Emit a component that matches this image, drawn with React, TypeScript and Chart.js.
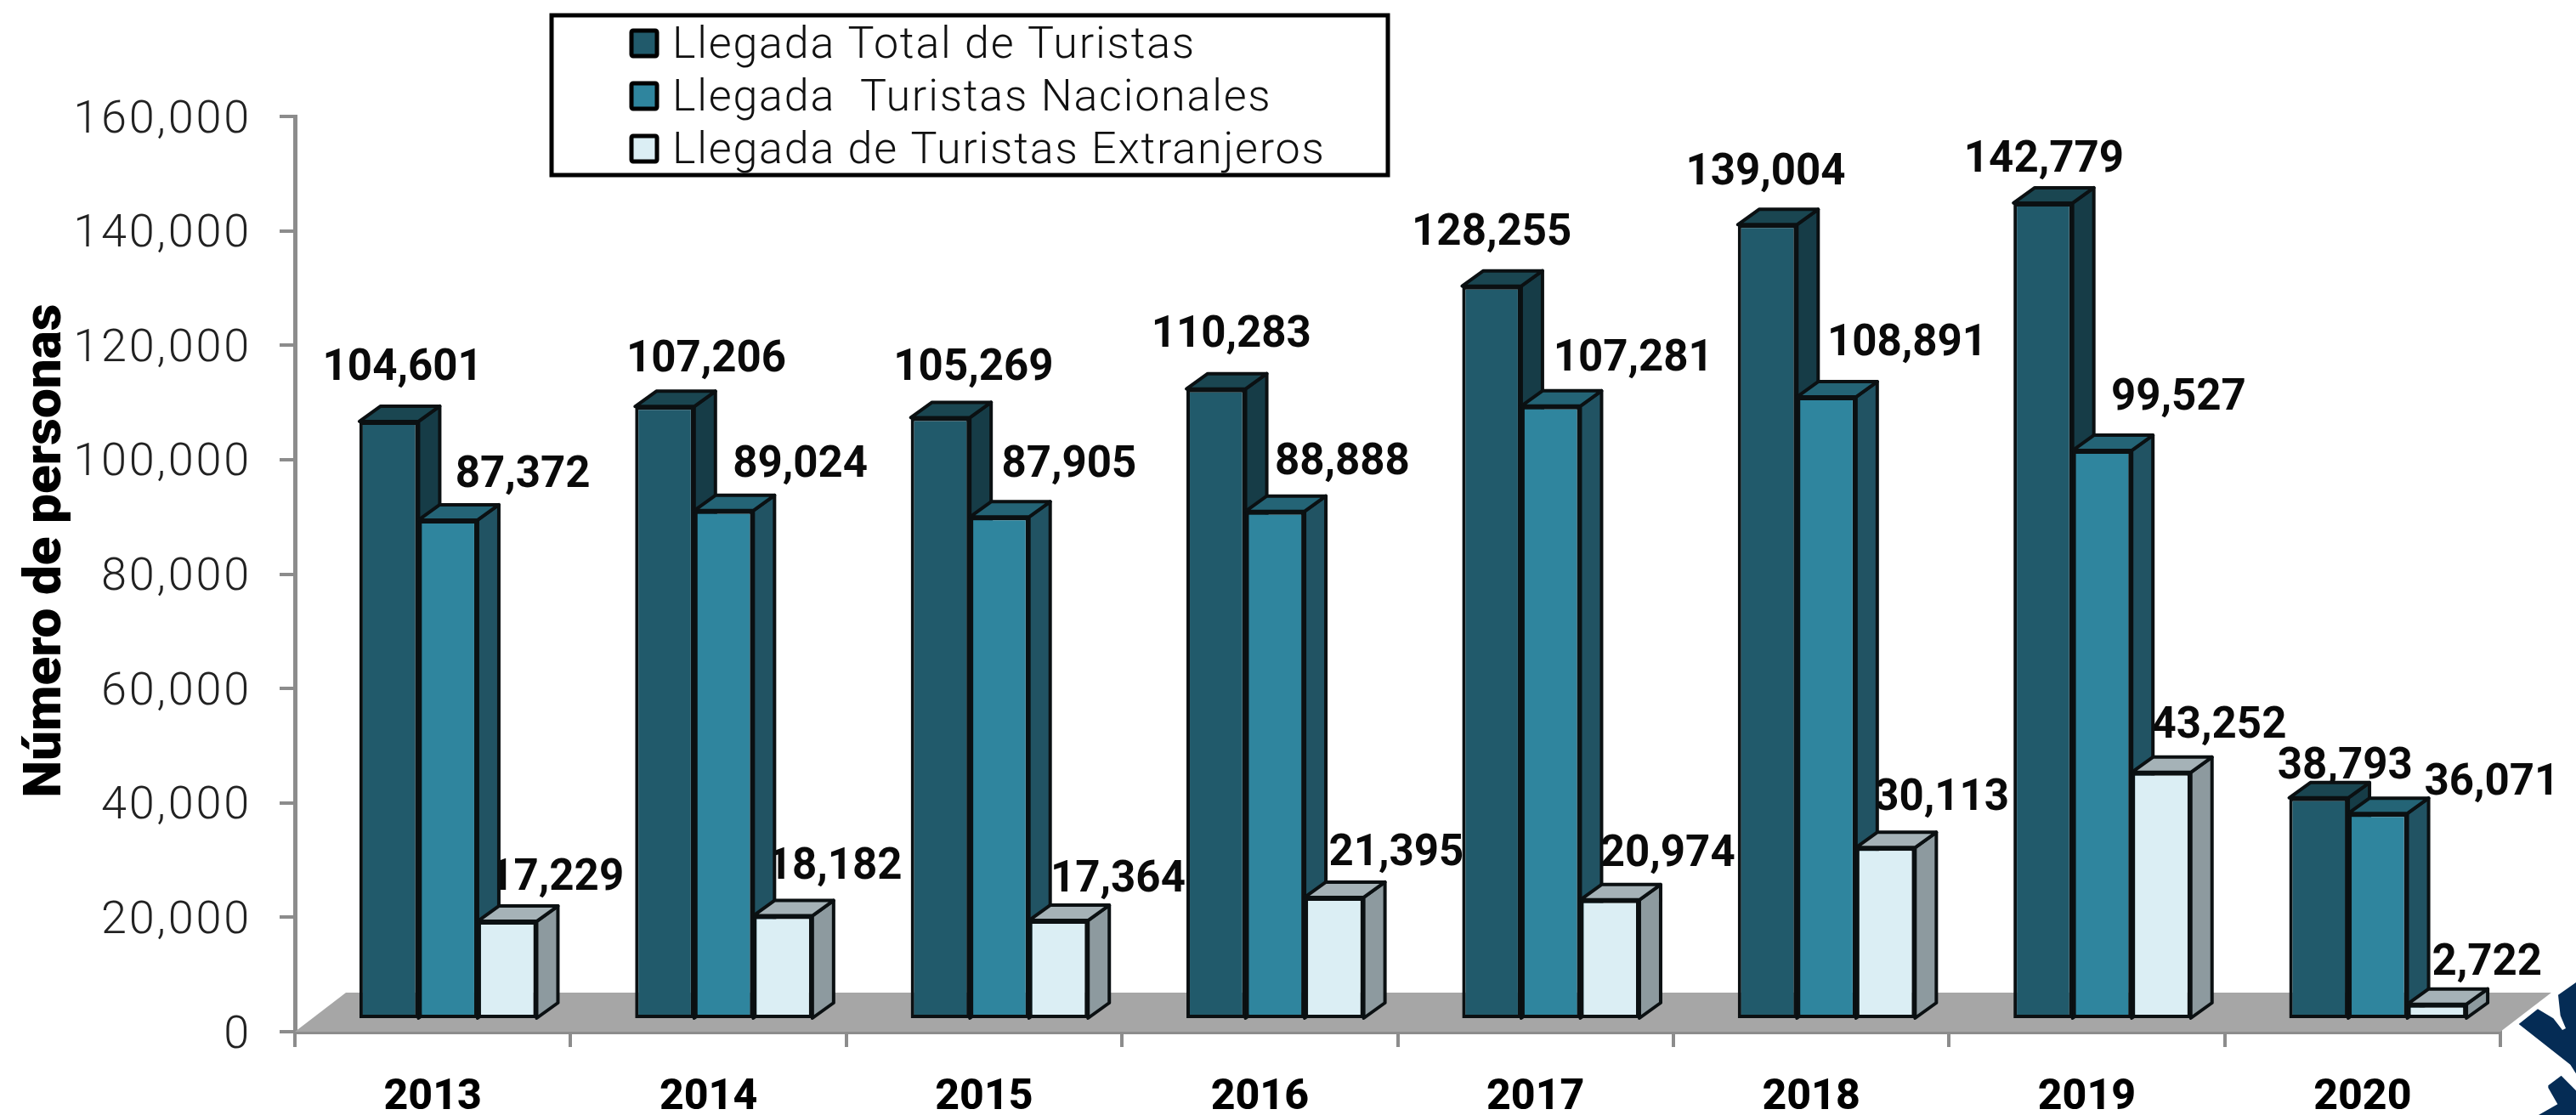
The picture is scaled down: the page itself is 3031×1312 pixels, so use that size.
import React, { useEffect, useRef } from "react";
import { Chart, registerables } from "chart.js";

Chart.register(...registerables);

const years = ["2013", "2014", "2015", "2016", "2017", "2018", "2019", "2020"];
const seriesNames = ["Llegada Total de Turistas", "Llegada  Turistas Nacionales", "Llegada de Turistas Extranjeros"];
const totalArrivals = [104601, 107206, 105269, 110283, 128255, 139004, 142779, 38793];
const nationalArrivals = [87372, 89024, 87905, 88888, 107281, 108891, 99527, 36071];
const foreignArrivals = [17229, 18182, 17364, 21395, 20974, 30113, 43252, 2722];
const yAxisTitle = "Número de personas";

const frontColors = ["#215a6b", "#2f859e", "#dbeef4"];
const sideColors = ["#163c47", "#215363", "#8d9a9f"];
const topColors = ["#1a4651", "#246476", "#a5b2b7"];

// label placement, relative to each bar's front face (x shift, lift)
const labelShiftX = [
  [16, 49, 39, 18, 0, -2, 1, 31],
  [88, 90, 82, 79, 97, 95, 90, 134],
  [58, 61, 70, 73, 68, 66, 68, 59],
];
const labelLift = [
  [64, 56, 59, 64, 63, 62, 52, 38],
  [54, 55, 62, 58, 57, 64, 63, 37],
  [52, 58, 49, 53, 55, 59, 56, 49],
];

const FRONT_X = 18, FRONT_Y = -14;
const DEPTH_X = 25, DEPTH_Y = 18;
const FLOOR_X = 60, FLOOR_Y = 46;
const INK = "#0b1012";

const fmt = (v: number) => v.toLocaleString("en-US");

function poly(ctx: CanvasRenderingContext2D, pts: number[][], fill: string, stroke?: string, lw = 4) {
  ctx.beginPath();
  pts.forEach((p, i) => (i ? ctx.lineTo(p[0], p[1]) : ctx.moveTo(p[0], p[1])));
  ctx.closePath();
  ctx.fillStyle = fill;
  ctx.fill();
  if (stroke) {
    ctx.strokeStyle = stroke;
    ctx.lineWidth = lw;
    ctx.lineJoin = "round";
    ctx.stroke();
  }
}

const scene3d = {
  id: "scene3d",
  beforeDatasetsDraw(chart: any) {
    const { ctx, scales } = chart;
    const xs = scales.x, ys = scales.y;
    const y0 = ys.getPixelForValue(0);
    // floor
    poly(ctx, [
      [xs.left, y0],
      [xs.left + FLOOR_X, y0 - FLOOR_Y],
      [xs.right + FLOOR_X, y0 - FLOOR_Y],
      [xs.right, y0],
    ], "#a6a6a6");

    // value labels sit behind the bars
    ctx.save();
    ctx.font = "700 51px Roboto";
    ctx.fillStyle = "#0a0a0a";
    ctx.textAlign = "center";
    ctx.textBaseline = "middle";
    chart.data.datasets.forEach((ds: any, i: number) => {
      chart.getDatasetMeta(i).data.forEach((el: any, j: number) => {
        ctx.fillText(fmt(ds.data[j]), el.x + FRONT_X + labelShiftX[i][j], el.y + FRONT_Y - labelLift[i][j] + 2);
      });
    });
    ctx.restore();

    // bars left to right so that each front covers its neighbour's side
    ctx.save();
    ctx.translate(FRONT_X, FRONT_Y);
    chart.data.datasets.forEach((_: any, i: number) => {
      const meta = chart.getDatasetMeta(i);
      meta.data.forEach((el: any) => {
        const l = el.x - el.width / 2, r = el.x + el.width / 2, t = el.y, b = el.base;
        poly(ctx, [[r, t], [r + DEPTH_X, t - DEPTH_Y], [r + DEPTH_X, b - DEPTH_Y], [r, b]], sideColors[i], INK);
        poly(ctx, [[l, t], [r, t], [r + DEPTH_X, t - DEPTH_Y], [l + DEPTH_X, t - DEPTH_Y]], topColors[i], INK);
      });
      meta.controller.draw();
    });
    ctx.restore();
    return false;
  },
  afterDraw(chart: any) {
    const { ctx } = chart;
    // y axis title, centred on the reference's position rather than the scale's middle
    ctx.save();
    ctx.translate(55, 648);
    ctx.rotate(-Math.PI / 2);
    ctx.font = "900 62px Roboto";
    ctx.fillStyle = "#000";
    ctx.textAlign = "center";
    ctx.textBaseline = "middle";
    ctx.fillText(yAxisTitle, 0, 0);
    ctx.restore();

    // legend box
    ctx.save();
    ctx.strokeStyle = "#000";
    ctx.lineWidth = 5;
    ctx.strokeRect(649, 18, 984, 188);
    ctx.font = "300 52px Roboto";
    ctx.textBaseline = "middle";
    chart.data.datasets.forEach((ds: any, i: number) => {
      const cy = 50 + i * 62;
      ctx.fillStyle = ds.backgroundColor;
      ctx.strokeStyle = "#000";
      ctx.lineWidth = 5;
      ctx.beginPath();
      ctx.roundRect(743, cy - 14, 30, 30, 2);
      ctx.fill();
      ctx.stroke();
      ctx.fillStyle = "#111";
      ctx.textAlign = "left";
      (ctx as any).letterSpacing = "1.8px";
      ctx.fillText(ds.label, 791, cy + 5);
      (ctx as any).letterSpacing = "0px";
    });
    // corner logo fragment
    const map = (p: number[]) => [2941 + p[0] / 3, 1120 + p[1] / 3];
    poly(ctx, [[207, 152], [270, 108], [270, 430], [250, 398], [68, 255], [135, 202], [190, 235], [222, 276], [234, 270], [215, 225]].map(map), "#052c55");
    poly(ctx, [[172, 472], [218, 437], [270, 490], [270, 576], [138, 576], [205, 538], [172, 480]].map(map), "#052c55");
    ctx.restore();
  },
};

function spaceTickLabels(s: any) {
  if (s.__spaced) return;
  s.__spaced = true;
  const draw = s.drawLabels;
  s.drawLabels = function (area: any) {
    (s.ctx as any).letterSpacing = "2.8px";
    draw.call(s, area);
    (s.ctx as any).letterSpacing = "0px";
  };
}

export default function App() {
  const ref = useRef<HTMLCanvasElement>(null);
  useEffect(() => {
    const values = [totalArrivals, nationalArrivals, foreignArrivals];
    const chart = new Chart(ref.current as HTMLCanvasElement, {
      type: "bar",
      data: {
        labels: years,
        datasets: values.map((data, i) => ({
          label: seriesNames[i],
          data,
          backgroundColor: frontColors[i],
          borderColor: INK,
          borderWidth: 4,
          borderSkipped: false,
          categoryPercentage: 0.643,
          barPercentage: 1,
          clip: false,
        })),
      },
      options: {
        responsive: false,
        animation: false,
        layout: { padding: { left: 0, right: 89, top: 137, bottom: 0 } },
        plugins: { legend: { display: false }, tooltip: { enabled: false } },
        scales: {
          x: {
            offset: true,
            afterFit: (s: any) => { s.height = 98; },
            border: { color: "#8c8c8c", width: 5 },
            grid: { drawOnChartArea: false, color: "#8c8c8c", lineWidth: 4, tickLength: 18, offset: true },
            ticks: { color: "#000", font: { family: "Roboto", weight: "800", size: 50 }, padding: 30, maxRotation: 0 },
          },
          y: {
            min: 0,
            max: 160000,
            afterFit: (s: any) => { s.width = 347; spaceTickLabels(s); },
            border: { color: "#8c8c8c", width: 5 },
            grid: { drawOnChartArea: false, color: "#8c8c8c", lineWidth: 4, tickLength: 18 },
            ticks: {
              stepSize: 20000,
              color: "#222",
              padding: 33,
              labelOffset: 5,
              font: { family: "Roboto", weight: "300", size: 54 },
              callback: (v: any) => fmt(Number(v)),
            },
          },
        },
      },
      plugins: [scene3d],
    } as any);
    return () => chart.destroy();
  }, []);
  return (
    <div style={{ position: "fixed", left: 0, top: 0, width: 3031, height: 1312, background: "#fff" }}>
      <canvas ref={ref} width={3031} height={1312} style={{ display: "block" }} />
    </div>
  );
}
